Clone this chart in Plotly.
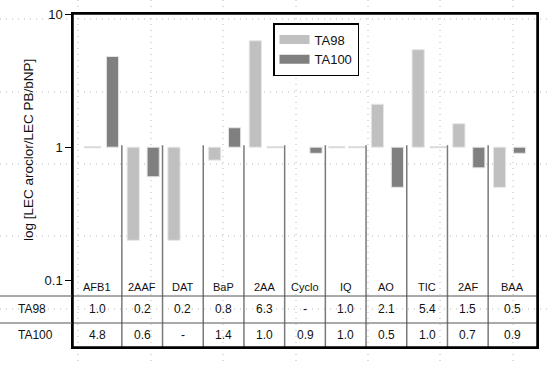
import plotly.graph_objects as go

# ---- data ----
categories = ["AFB1", "2AAF", "DAT", "BaP", "2AA", "Cyclo", "IQ", "AO", "TIC", "2AF", "BAA"]
ta98 = [1.0, 0.2, 0.2, 0.8, 6.3, None, 1.0, 2.1, 5.4, 1.5, 0.5]
ta100 = [4.8, 0.6, None, 1.4, 1.0, 0.9, 1.0, 0.5, 1.0, 0.7, 0.9]
series_names = ["TA98", "TA100"]
ytick_vals = [0.1, 1, 10]
ytick_text = ["0.1", "1", "10"]
y_title = "log [LEC aroclor/LEC PB/bNP]"

# ---- styling ----
W, H = 550, 366
L, R, T, B = 73, 13, 14, 19
colors = ["#c0c0c0", "#808080"]
one_color = "#dadada"
bar_width = 0.3
offsets = [-0.37, 0.12]
font_family = "Arial, Liberation Sans, sans-serif"
pw, ph = W - L - R, H - T - B
n = len(categories)
xr = [-0.7, n - 1 + 0.7]
yr = [-1.5, 1.0]


def px_x(p):
    return (p - L) / pw


def px_y(p):
    return (H - B - p) / ph


idx = list(range(n))
fig = go.Figure()

for name, vals, col, off in zip(series_names, [ta98, ta100], colors, offsets):
    fig.add_trace(go.Bar(
        x=idx,
        y=[(v - 1) if (v is not None and v != 1.0) else None for v in vals],
        base=1,
        width=bar_width,
        offset=off,
        marker=dict(color=col, line=dict(color="#e6e6e6", width=1)),
        showlegend=False,
        name=name,
    ))
    ones_x = [i + off + bar_width / 2 for i, v in enumerate(vals) if v == 1.0]
    fig.add_trace(go.Scatter(
        x=ones_x, y=[1.0] * len(ones_x), mode="markers",
        marker=dict(symbol="line-ew", size=12, line=dict(color=one_color, width=2)),
        showlegend=False, hoverinfo="skip",
    ))
    fig.add_trace(go.Scatter(
        x=[None], y=[None], mode="lines", name=name,
        line=dict(color=col, width=9),
    ))

shapes = []
for gx in [78, 151, 223, 296, 368, 440, 513]:
    shapes.append(dict(type="line", xref="paper", yref="paper",
                       x0=px_x(gx), x1=px_x(gx), y0=px_y(0), y1=px_y(H),
                       line=dict(color="#b8b8b8", width=1, dash="1px,5px"), layer="below"))
for gy in [19, 92, 164, 236, 309]:
    shapes.append(dict(type="line", xref="paper", yref="paper",
                       x0=px_x(0), x1=px_x(W), y0=px_y(gy), y1=px_y(gy),
                       line=dict(color="#b8b8b8", width=1, dash="1px,5px"), layer="below"))

y_one = (0 - yr[0]) / (yr[1] - yr[0])
for i in range(n - 1):
    shapes.append(dict(type="line", xref="x", yref="paper",
                       x0=i + 0.5, x1=i + 0.5, y0=0, y1=y_one + 2 / ph,
                       line=dict(color="#7a7a7a", width=1.5)))
for ly in [296, 323]:
    shapes.append(dict(type="line", xref="paper", yref="paper",
                       x0=px_x(0), x1=1, y0=px_y(ly), y1=px_y(ly),
                       line=dict(color="#555555", width=1)))
shapes.append(dict(type="rect", xref="paper", yref="paper", x0=0, x1=1, y0=0, y1=1,
                   line=dict(color="black", width=1.5)))

bounds = [xr[0]] + [i + 0.5 for i in range(n - 1)] + [xr[1]]
mids = [(bounds[i] + bounds[i + 1]) / 2 for i in range(n)]

annotations = []
for m, c in zip(mids, categories):
    annotations.append(dict(x=m, y=px_y(287), xref="x", yref="paper", text=c,
                            xanchor="center", yanchor="middle",
                            showarrow=False, font=dict(size=11, color="#111")))
for row_vals, row_y, row_name in zip([ta98, ta100], [309, 335], series_names):
    annotations.append(dict(x=px_x(16), y=px_y(row_y), xref="paper", yref="paper",
                            text=row_name, xanchor="left", yanchor="middle", showarrow=False,
                            font=dict(size=12, color="#111")))
    for m, v in zip(mids, row_vals):
        annotations.append(dict(x=m, y=px_y(row_y), xref="x", yref="paper",
                                text="-" if v is None else f"{v:.1f}",
                                xanchor="center", yanchor="middle",
                                showarrow=False, font=dict(size=12, color="#111")))
annotations.append(dict(x=px_x(28), y=px_y(150), xref="paper", yref="paper",
                        text=y_title, textangle=-90, showarrow=False,
                        xanchor="center", yanchor="middle",
                        font=dict(size=13.5, color="#111")))

fig.update_layout(
    width=W, height=H,
    margin=dict(l=L, r=R, t=T, b=B, pad=0, autoexpand=False),
    paper_bgcolor="white", plot_bgcolor="rgba(0,0,0,0)",
    font=dict(family=font_family, color="#111"),
    shapes=shapes, annotations=annotations,
    legend=dict(x=px_x(273), y=px_y(23), xanchor="left", yanchor="top",
                bordercolor="black", borderwidth=1.5, bgcolor="white",
                font=dict(size=13), itemwidth=30, tracegroupgap=0),
    xaxis=dict(range=xr, showticklabels=False, ticks="", showgrid=False, zeroline=False,
               showline=True, linecolor="black", linewidth=1.5, mirror=True),
    yaxis=dict(type="log", range=yr, tickvals=ytick_vals, ticktext=ytick_text,
               ticks="outside", ticklen=6, tickcolor="black", showgrid=False,
               showline=True, linecolor="black", linewidth=1.5, mirror=True,
               tickfont=dict(size=13), automargin=False),
)

fig.write_html("out.html", config={"displayModeBar": False},
               post_script="document.body.style.margin='0';document.body.style.overflow='hidden';")
